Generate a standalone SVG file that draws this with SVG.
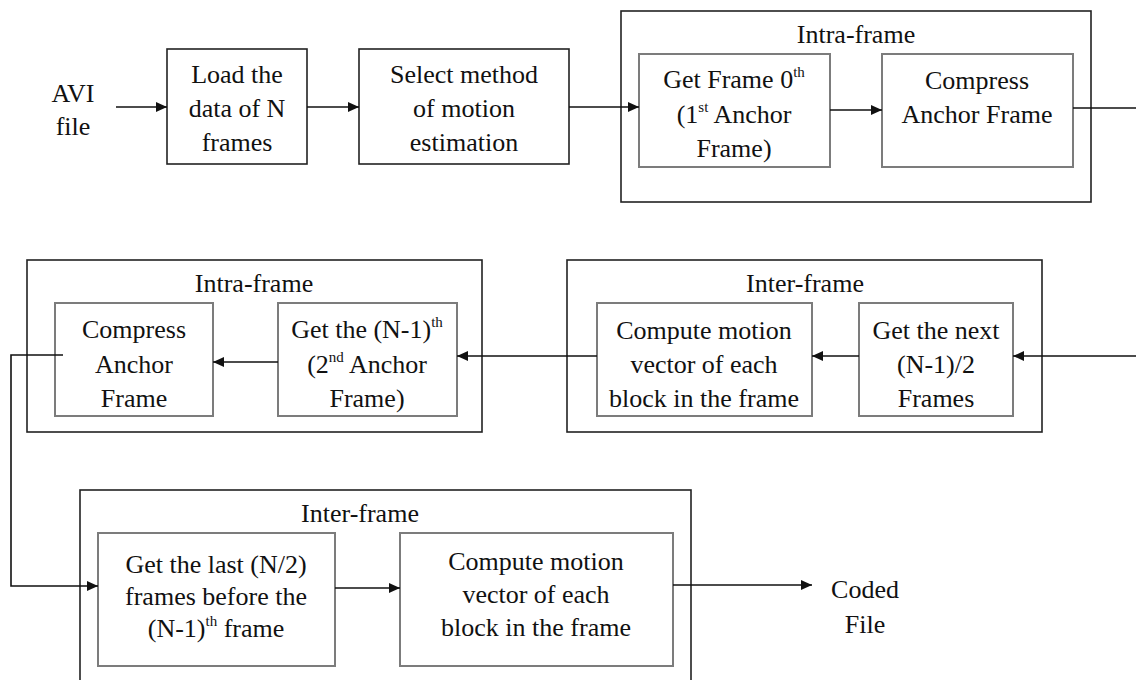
<svg xmlns="http://www.w3.org/2000/svg" width="1136" height="680" viewBox="0 0 1136 680" font-family="'Liberation Serif', 'Times New Roman', 'DejaVu Serif', serif">
  <defs>
    <style>
      text { font-size: 26px; fill: #111; text-anchor: middle; }
      .sup { font-size: 15px; }
      .box { fill: none; stroke: #222; stroke-width: 1.6; }
      .inner { fill: none; stroke: #7c7c7c; stroke-width: 2; }
      .group { fill: none; stroke: #222; stroke-width: 1.6; }
      .conn { fill: none; stroke: #111; stroke-width: 1.6; }
    </style>
    <marker id="arrow" markerUnits="userSpaceOnUse" markerWidth="12" markerHeight="10" refX="11" refY="5" orient="auto">
      <path d="M0,0 L11,5 L0,10 Z" fill="#111"/>
    </marker>
  </defs>
  <rect width="1136" height="680" fill="#fff"/>

  <!-- Row 1 -->
  <g id="avi-file">
    <text x="73" y="102">AVI</text>
    <text x="73" y="135">file</text>
  </g>
  <g id="load-data">
    <rect class="box" x="167" y="49" width="140" height="115"/>
    <text x="237" y="83">Load the</text>
    <text x="237" y="117">data of N</text>
    <text x="237" y="151">frames</text>
  </g>
  <g id="select-method">
    <rect class="box" x="359" y="49" width="210" height="115"/>
    <text x="464" y="83">Select method</text>
    <text x="464" y="117">of motion</text>
    <text x="464" y="151">estimation</text>
  </g>
  <g id="intra-frame-1">
    <rect class="group" x="621" y="11" width="470" height="191"/>
    <text x="856" y="43">Intra-frame</text>
  </g>
  <g id="get-frame-0">
    <rect class="inner" x="639" y="54" width="191" height="113"/>
    <text x="734" y="88">Get Frame 0<tspan class="sup" dy="-11">th</tspan></text>
    <text x="734" y="123">(1<tspan class="sup" dy="-11">st</tspan><tspan dy="11"> Anchor</tspan></text>
    <text x="734" y="157">Frame)</text>
  </g>
  <g id="compress-anchor-1">
    <rect class="inner" x="882" y="54" width="191" height="113"/>
    <text x="977" y="89">Compress</text>
    <text x="977" y="123">Anchor Frame</text>
  </g>

  <!-- Row 2 -->
  <g id="intra-frame-2">
    <rect class="group" x="27" y="260" width="455" height="172"/>
    <text x="254" y="292">Intra-frame</text>
  </g>
  <g id="compress-anchor-2">
    <rect class="inner" x="55" y="303" width="158" height="113"/>
    <text x="134" y="338">Compress</text>
    <text x="134" y="373">Anchor</text>
    <text x="134" y="407">Frame</text>
  </g>
  <g id="get-n-minus-1">
    <rect class="inner" x="278" y="303" width="179" height="113"/>
    <text x="367" y="338">Get the (N-1)<tspan class="sup" dy="-11">th</tspan></text>
    <text x="367" y="373">(2<tspan class="sup" dy="-11">nd</tspan><tspan dy="11"> Anchor</tspan></text>
    <text x="367" y="407">Frame)</text>
  </g>
  <g id="inter-frame-1">
    <rect class="group" x="567" y="260" width="475" height="172"/>
    <text x="805" y="292">Inter-frame</text>
  </g>
  <g id="compute-motion-1">
    <rect class="inner" x="597" y="303" width="215" height="113"/>
    <text x="704" y="339">Compute motion</text>
    <text x="704" y="373">vector of each</text>
    <text x="704" y="407">block in the frame</text>
  </g>
  <g id="get-next">
    <rect class="inner" x="859" y="303" width="154" height="113"/>
    <text x="936" y="339">Get the next</text>
    <text x="936" y="373">(N-1)/2</text>
    <text x="936" y="407">Frames</text>
  </g>

  <!-- Row 3 -->
  <g id="inter-frame-2">
    <rect class="group" x="80" y="490" width="611" height="200"/>
    <text x="360" y="522">Inter-frame</text>
  </g>
  <g id="get-last">
    <rect class="inner" x="98" y="533" width="237" height="133"/>
    <text x="216" y="573">Get the last (N/2)</text>
    <text x="216" y="605">frames before the</text>
    <text x="216" y="637">(N-1)<tspan class="sup" dy="-11">th</tspan><tspan dy="11"> frame</tspan></text>
  </g>
  <g id="compute-motion-2">
    <rect class="inner" x="400" y="533" width="273" height="133"/>
    <text x="536" y="570">Compute motion</text>
    <text x="536" y="603">vector of each</text>
    <text x="536" y="636">block in the frame</text>
  </g>
  <g id="coded-file">
    <text x="865" y="598">Coded</text>
    <text x="865" y="633">File</text>
  </g>

  <!-- Connectors -->
  <g id="connectors">
    <line class="conn" x1="116" y1="107" x2="167" y2="107" marker-end="url(#arrow)"/>
    <line class="conn" x1="307" y1="107" x2="359" y2="107" marker-end="url(#arrow)"/>
    <line class="conn" x1="569" y1="107" x2="639" y2="107" marker-end="url(#arrow)"/>
    <line class="conn" x1="830" y1="110" x2="882" y2="110" marker-end="url(#arrow)"/>
    <line class="conn" x1="1073" y1="108" x2="1136" y2="108"/>
    <line class="conn" x1="1136" y1="356" x2="1013" y2="356" marker-end="url(#arrow)"/>
    <line class="conn" x1="859" y1="356" x2="812" y2="356" marker-end="url(#arrow)"/>
    <line class="conn" x1="597" y1="356" x2="457" y2="356" marker-end="url(#arrow)"/>
    <line class="conn" x1="278" y1="362" x2="213" y2="362" marker-end="url(#arrow)"/>
    <path class="conn" d="M63,355 H11 V586 H98" marker-end="url(#arrow)"/>
    <line class="conn" x1="335" y1="588" x2="400" y2="588" marker-end="url(#arrow)"/>
    <line class="conn" x1="673" y1="585" x2="812" y2="585" marker-end="url(#arrow)"/>
  </g>
</svg>
